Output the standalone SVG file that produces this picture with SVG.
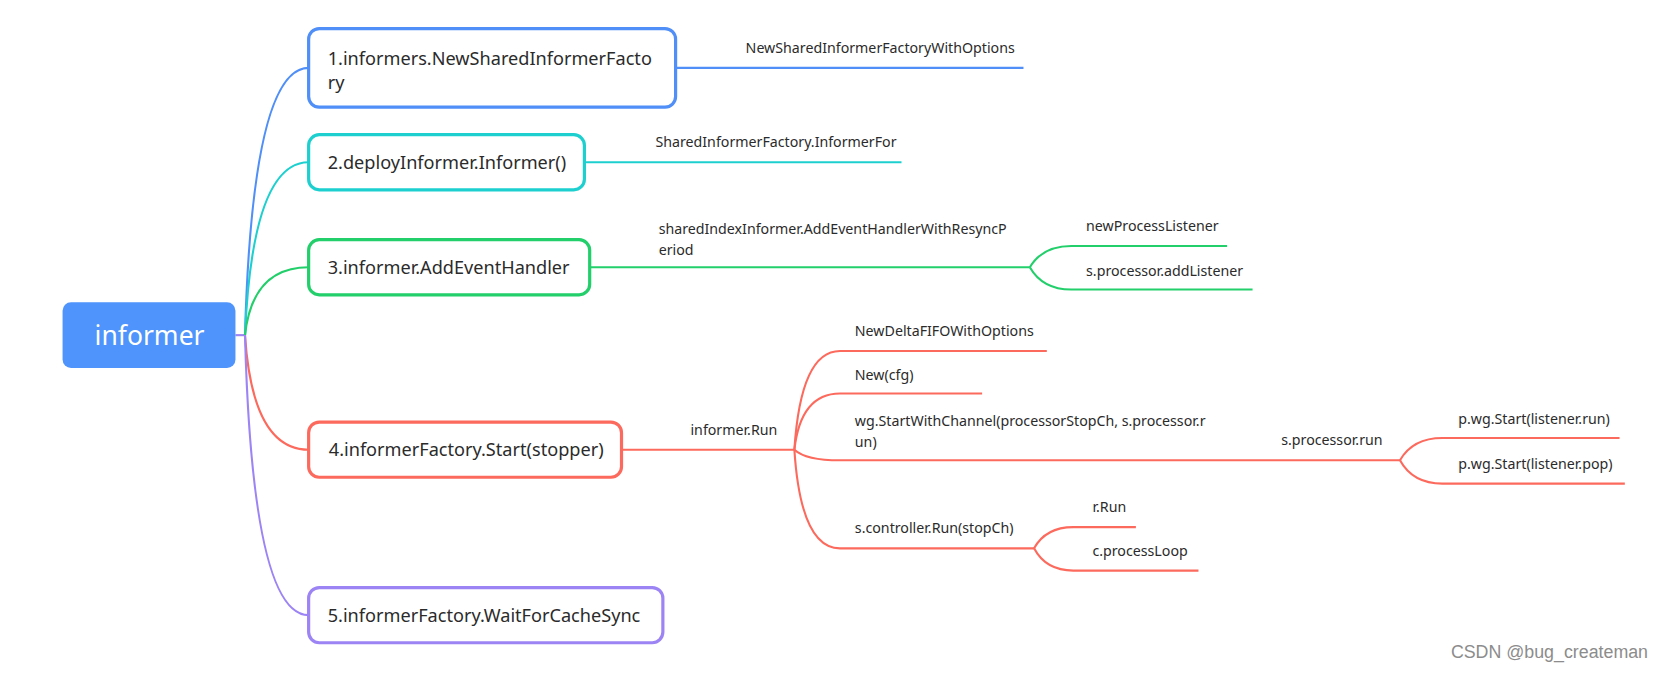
<svg xmlns="http://www.w3.org/2000/svg" width="1663" height="676" viewBox="0 0 1663 676">
<style>
.t{font-family:"Noto Sans","Liberation Sans",sans-serif;fill:#2b2b2b}
.n{font-size:17.1px}
.s{font-size:13.4px}
.box{fill:#fff;stroke-width:3}
.c{fill:none;stroke-width:2}
.blue{stroke:#4f8ff7}.cyan{stroke:#1dd0cf}.green{stroke:#22cf6b}.red{stroke:#fc6a5d}.purple{stroke:#9c84f5}
</style>
<rect width="1663" height="676" fill="#fff"/>
<g transform="scale(1.0606)">
<g id="connectors">
<path class="c purple" d="M222 316 H231"/>
<path class="c blue" d="M231 316 Q238 64 291 64"/>
<path class="c cyan" d="M231 316 Q238 153 291 153"/>
<path class="c green" d="M231 316 Q238 252 291 252"/>
<path class="c red" d="M231 316 Q238 424 291 424"/>
<path class="c purple" d="M231 316 Q238 580 291 580"/>
<path class="c blue" d="M637 64 H965"/>
<path class="c cyan" d="M551 153 H850"/>
<path class="c green" d="M556 252 H971"/>
<path class="c green" d="M971 252 Q983 232 1010 232 H1157"/>
<path class="c green" d="M971 252 Q983 273 1010 273 H1181"/>
<path class="c red" d="M586 424 H749"/>
<path class="c red" d="M749 424 Q755 331 792 331 H987"/>
<path class="c red" d="M749 424 Q755 371 792 371 H926"/>
<path class="c red" d="M749 424 Q760 434 792 434 H1320"/>
<path class="c red" d="M749 424 Q755 517 792 517 H975"/>
<path class="c red" d="M1320 434 Q1332 413 1360 413 H1527"/>
<path class="c red" d="M1320 434 Q1332 456 1360 456 H1532"/>
<path class="c red" d="M975 517 Q986 497 1012 497 H1071"/>
<path class="c red" d="M975 517 Q986 538 1012 538 H1130"/>
</g>
<g id="root">
<rect x="59" y="285" width="163" height="62" rx="8" fill="#4e94fc"/>
<text x="141" y="325" text-anchor="middle" style="font-family:'Noto Sans','Liberation Sans',sans-serif;font-size:25px;fill:#fff">informer</text>
</g>
<g id="n1">
<rect class="box blue" x="291" y="27" width="346" height="74" rx="10"/>
<text class="t n" x="309" y="61">1.informers.NewSharedInformerFacto</text>
<text class="t n" x="309" y="84">ry</text>
</g>
<g id="n2">
<rect class="box cyan" x="291" y="127" width="260" height="52" rx="10"/>
<text class="t n" x="309" y="159">2.deployInformer.Informer()</text>
</g>
<g id="n3">
<rect class="box green" x="291" y="226" width="265" height="52" rx="10"/>
<text class="t n" x="309" y="258">3.informer.AddEventHandler</text>
</g>
<g id="n4">
<rect class="box red" x="291" y="398" width="295" height="52" rx="10"/>
<text class="t n" x="310" y="430">4.informerFactory.Start(stopper)</text>
</g>
<g id="n5">
<rect class="box purple" x="291" y="554" width="334" height="52" rx="10"/>
<text class="t n" x="309" y="586">5.informerFactory.WaitForCacheSync</text>
</g>
<g id="l1"><text class="t s" x="703" y="50">NewSharedInformerFactoryWithOptions</text></g>
<g id="l2"><text class="t s" x="618" y="139">SharedInformerFactory.InformerFor</text></g>
<g id="l3"><text class="t s" x="621" y="221">sharedIndexInformer.AddEventHandlerWithResyncP</text><text class="t s" x="621" y="240">eriod</text></g>
<g id="l3a"><text class="t s" x="1024" y="218">newProcessListener</text></g>
<g id="l3b"><text class="t s" x="1024" y="260">s.processor.addListener</text></g>
<g id="l4"><text class="t s" x="651" y="410">informer.Run</text></g>
<g id="l4a"><text class="t s" x="806" y="317">NewDeltaFIFOWithOptions</text></g>
<g id="l4b"><text class="t s" x="806" y="358">New(cfg)</text></g>
<g id="l4c"><text class="t s" x="806" y="402">wg.StartWithChannel(processorStopCh, s.processor.r</text><text class="t s" x="806" y="421">un)</text></g>
<g id="l4c1"><text class="t s" x="1208" y="420">s.processor.run</text></g>
<g id="l4c1a"><text class="t s" x="1375" y="400">p.wg.Start(listener.run)</text></g>
<g id="l4c1b"><text class="t s" x="1375" y="442">p.wg.Start(listener.pop)</text></g>
<g id="l4d"><text class="t s" x="806" y="503">s.controller.Run(stopCh)</text></g>
<g id="l4d1"><text class="t s" x="1030" y="483">r.Run</text></g>
<g id="l4d2"><text class="t s" x="1030" y="524">c.processLoop</text></g>
<text x="1368" y="620" style="font-family:'Liberation Sans',sans-serif;font-size:16.8px;fill:#8c8c8c">CSDN @bug_createman</text>
</g>
</svg>
